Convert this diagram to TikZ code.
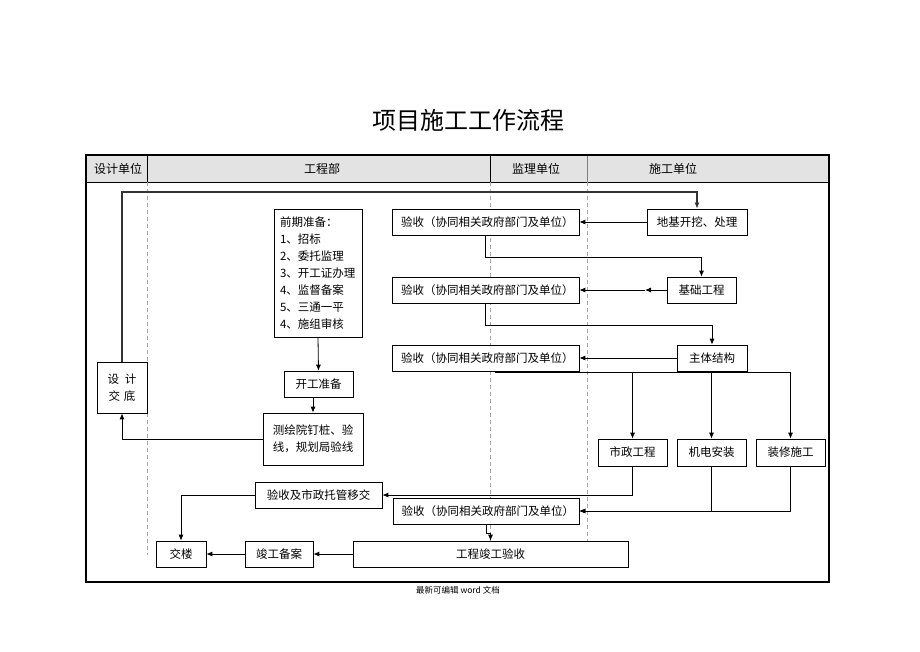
\documentclass[tikz,border=0pt]{standalone}
\usepackage{fontspec}
\newfontfamily\cjk{Noto Sans CJK SC}
\usetikzlibrary{arrows.meta}
\begin{document}
\begin{tikzpicture}[x=1pt,y=-1pt,
  box/.style={draw=black,line width=0.7pt,fill=white,inner sep=0pt,align=center,
    font=\cjk\fontsize{11.5}{17}\selectfont},
  ysbox/.style={box,minimum height=26,text width=176,align=right},
  hdr/.style={font=\cjk\fontsize{12}{14}\selectfont,inner sep=0pt},
  arr/.style={-{Latex[length=6pt,width=5pt]},line width=0.8pt},
  sep/.style={dash pattern=on 4pt off 3pt,line width=0.6pt,gray!70}]
\useasboundingbox (0,0) rectangle (920,651);
% title
\node[font=\cjk\fontsize{24}{27}\selectfont] (title) at (468,120) {项目施工工作流程};
% frame and header
\fill[gray!22] (86,155) rectangle (829,182);
\draw[line width=0.7pt] (86,182) -- (829,182);
\draw[line width=0.7pt] (147,155) -- (147,182);
\draw[line width=0.7pt] (490,155) -- (490,182);
\draw[line width=0.6pt,gray] (587,155) -- (587,182);
\node[hdr] (h1) at (118,169) {设计单位};
\node[hdr] (h2) at (322,169) {工程部};
\node[hdr] (h3) at (536,169) {监理单位};
\node[hdr] (h4) at (673,169) {施工单位};
% lane separators
\draw[sep] (147,182) -- (147,555);
\draw[sep] (490,182) -- (490,541);
\draw[sep] (587,182) -- (587,541);
% boxes
\node[box,minimum width=50,minimum height=51] (sjjd) at (122,387.5) {设\hspace{6pt}计\\交\hspace{4pt}底};
\node[box,minimum width=88,minimum height=128,align=left,text width=76] (qq) at (318,273)
  {前期准备：\\1、招标\\2、委托监理\\3、开工证办理\\4、监督备案\\5、三通一平\\4、施组审核};
\node[box,minimum width=69,minimum height=26] (kg) at (318.5,384) {开工准备};
\node[box,minimum width=100,minimum height=52] (ch) at (313,439) {测绘院钉桩、验\\线，规划局验线};
\node[ysbox,minimum width=187] (ys1) at (485.5,222) {验收（协同相关政府部门及单位）};
\node[ysbox,minimum width=187] (ys2) at (485.5,290) {验收（协同相关政府部门及单位）};
\node[ysbox,minimum width=187] (ys3) at (485.5,358) {验收（协同相关政府部门及单位）};
\node[box,minimum width=100,minimum height=26] (dj) at (697,222) {地基开挖、处理};
\node[box,minimum width=69,minimum height=26] (jc) at (701.5,290) {基础工程};
\node[box,minimum width=70,minimum height=26] (zt) at (712,358) {主体结构};
\node[box,minimum width=69,minimum height=27] (sz) at (632.5,452.5) {市政工程};
\node[box,minimum width=69,minimum height=27] (jd) at (711.5,452.5) {机电安装};
\node[box,minimum width=69,minimum height=27] (zx) at (790.5,452.5) {装修施工};
\node[box,minimum width=127,minimum height=26] (ysyj) at (318.5,495) {验收及市政托管移交};
\node[ysbox,minimum width=186] (ys4) at (486,511) {验收（协同相关政府部门及单位）};
\node[box,minimum width=275,minimum height=26] (jg) at (490.5,554) {工程竣工验收};
\node[box,minimum width=68,minimum height=26] (ba) at (279,554) {竣工备案};
\node[box,minimum width=50,minimum height=26] (jl) at (181,554) {交楼};
% helper coordinates
\coordinate (t1) at (0,192);
\coordinate (t2) at (0,257);
\coordinate (t3) at (0,325);
\coordinate (b1) at (495,372);
\coordinate (m1) at (645,290);
% connectors
\draw[arr,line width=1.3pt,black!80] (sjjd.north) -- (sjjd.north |- t1) -- (dj.north |- t1) -- (dj.north);
\draw[arr] (dj.west) -- (ys1.east);
\draw[arr] (ys1.south) -- (ys1.south |- t2) -- (jc.north |- t2) -- (jc.north);
\draw[arr] (jc.west) -- (m1);
\draw[arr] (m1) -- (ys2.east);
\draw[arr] (ys2.south) -- (ys2.south |- t3) -- (zt.north |- t3) -- (zt.north);
\draw[arr] (zt.west) -- (ys3.east);
\draw[line width=0.8pt] (b1) -- (zx.north |- b1);
\draw[arr] (sz.north |- b1) -- (sz.north);
\draw[arr] (jd.north |- b1) -- (jd.north);
\draw[arr] (zx.north |- b1) -- (zx.north);
\draw[arr] (sz.south) |- (ysyj.east);
\draw[arr] (jd.south) |- (ys4.east);
\draw[arr] (zx.south) |- (ys4.east);
\draw[arr] (ysyj.west) -| (jl.north);
\draw[arr] (ys4.south) -- ++(0,9) -| (jg.north);
\draw[arr] (jg.west) -- (ba.east);
\draw[arr] (ba.west) -- (jl.east);
\draw[arr] (ch.west) -| (sjjd.south);
\draw[arr] (qq.south) -- (kg.north);
\draw[arr] (kg.south -| ch.north) -- (ch.north);
% outer frame
\draw[line width=1.6pt] (86,155) rectangle (829,582);
% footer
\node[font=\cjk\fontsize{8.5}{10}\selectfont] (foot) at (458,590) {最新可编辑 word 文档};
\end{tikzpicture}
\end{document}
